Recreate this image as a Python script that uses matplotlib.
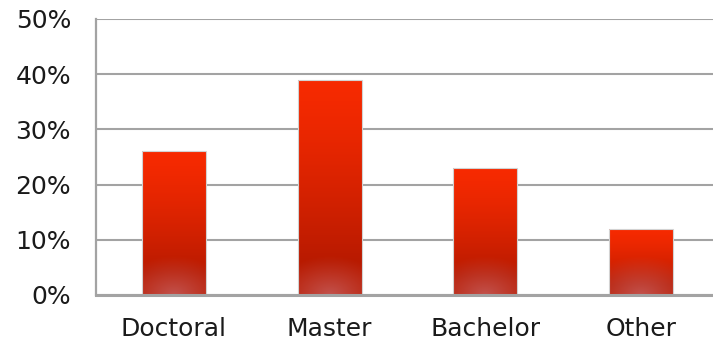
import numpy as np
import matplotlib.pyplot as plt
from matplotlib.colors import to_rgb
from matplotlib.ticker import FuncFormatter

categories = ["Doctoral", "Master", "Bachelor", "Other"]
shares = [26, 39, 23, 12]
yticks = [0, 10, 20, 30, 40, 50]

top_col = np.array(to_rgb("#f72a00"))
low_col = np.array(to_rgb("#b81a00"))
glow_col = np.array(to_rgb("#c45c5a"))
grid_col = "#a3a3a3"

plt.rcParams['font.family'] = ['DejaVu Sans']

fig = plt.figure(figsize=(7.13, 3.45), dpi=100)
ax = fig.add_axes([96 / 713, 50 / 345, 623 / 713, 276 / 345])

bar_w = 0.41
glow_h = 7.0  # in data units (percent)


def bar_image(h, nx=60, ny=300):
    y = np.linspace(h, 0, ny)[:, None]
    x = np.linspace(-1, 1, nx)[None, :]
    t = np.clip(1 - y / h, 0, 1) / 0.85
    t = np.clip(t, 0, 1) ** 1.3
    img = top_col * (1 - t[..., None]) + low_col * t[..., None]
    img = np.broadcast_to(img, (ny, nx, 3)).copy()
    # soft glow at the foot of the bar
    d = np.sqrt((x * 0.55) ** 2 + (y / glow_h) ** 2)
    a = np.clip(1 - d, 0, 1) ** 1.1 * 0.85
    img = img * (1 - a[..., None]) + glow_col * a[..., None]
    return img


bars = ax.bar(range(len(shares)), shares, width=bar_w, facecolor='none',
              edgecolor='#d2d2d2', linewidth=0.8, zorder=4)
for i, (v, b) in enumerate(zip(shares, bars)):
    im = ax.imshow(bar_image(v), extent=(i - bar_w / 2, i + bar_w / 2, 0, v),
                   aspect='auto', zorder=3, interpolation='bilinear')
    im.set_clip_path(b)

ax.set_xlim(-0.5, 3.5)
ax.set_ylim(0, 50)
ax.set_yticks(yticks)
ax.yaxis.set_major_formatter(FuncFormatter(lambda v, p: f"{v:.0f}%"))
ax.set_xticks(range(len(categories)))
ax.set_xticklabels(categories)

ax.grid(axis='y', color=grid_col, linewidth=1.5, zorder=1)
ax.set_axisbelow(True)
for s in ['top', 'right']:
    ax.spines[s].set_visible(False)
ax.spines['left'].set_color(grid_col)
ax.spines['left'].set_linewidth(1.6)
ax.spines['bottom'].set_color(grid_col)
ax.spines['bottom'].set_linewidth(2.2)
ax.spines['bottom'].set_zorder(5)
ax.tick_params(axis='both', length=0, labelsize=18, colors='#1a1a1a')
ax.tick_params(axis='y', pad=18)
ax.tick_params(axis='x', pad=16)

fig.savefig("out.png", dpi=100)
